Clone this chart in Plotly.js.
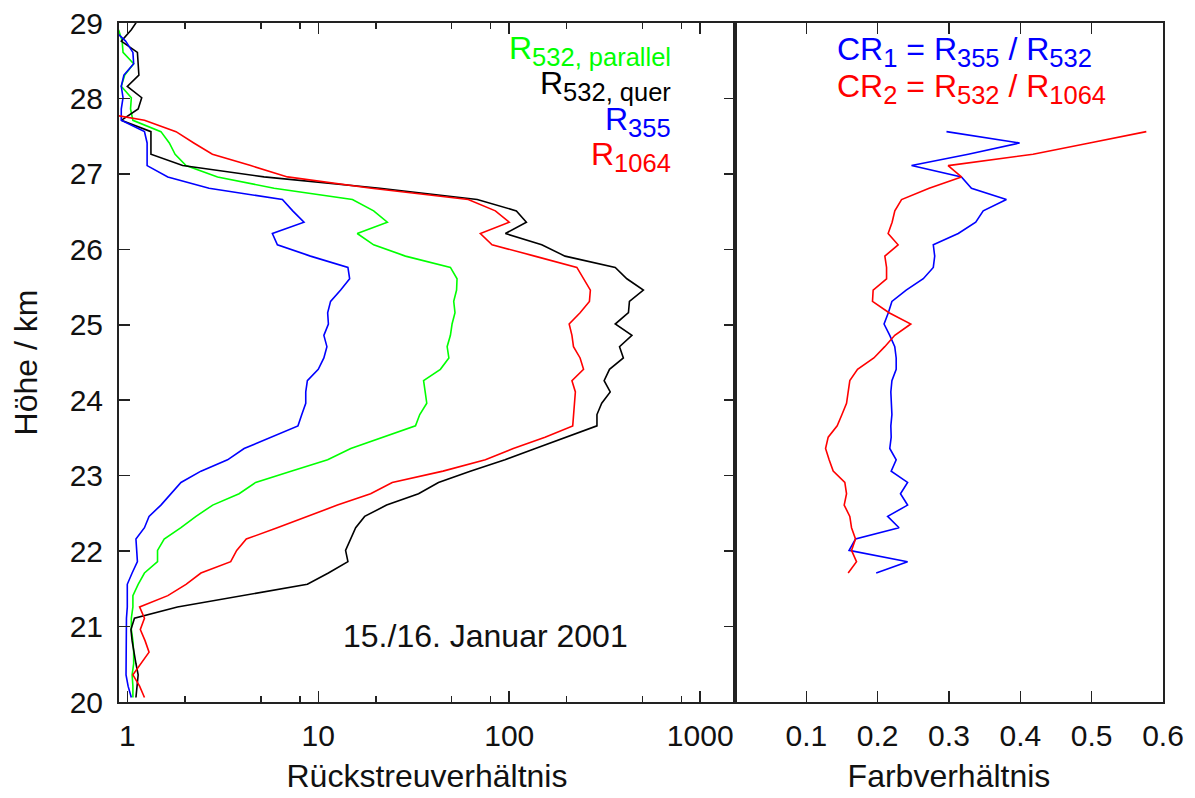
<!DOCTYPE html>
<html>
<head>
<meta charset="utf-8">
<script src="https://cdn.plot.ly/plotly-3.0.1.min.js"></script>
<style>
html,body{margin:0;padding:0;background:#fff;}
#chart{width:1195px;height:798px;}
</style>
</head>
<body>
<div id="chart"></div>
<script>
// Heights (km) of the profile levels
const heights = [20.06,20.21,20.36,20.51,20.66,20.81,20.96,21.11,21.26,21.41,21.56,21.71,21.86,22.01,22.16,22.31,22.46,22.61,22.76,22.91,23.06,23.21,23.36,23.51,23.66,23.81,23.96,24.11,24.26,24.41,24.56,24.71,24.86,25.01,25.16,25.31,25.46,25.61,25.76,25.91,26.06,26.21,26.36,26.51,26.66,26.81,26.96,27.11,27.26,27.41,27.56,27.71,27.86,28.01,28.16,28.31,28.46,28.61,28.76,28.91,29.06];

// Backscatter ratios (same order as heights)
const r532parallel = [1.07,1.07,1.06,1.08,1.08,1.07,1.05,1.05,1.07,1.07,1.14,1.23,1.44,1.44,1.56,1.91,2.29,2.8,3.85,4.7,7.2,11.2,14.8,22,32.3,34,37,36.3,35.6,43.6,48.3,47.3,49.2,50.2,52,51.2,53,53.3,49.2,28.6,19.5,16,23,19.5,15.1,5.87,2.97,2.03,1.78,1.66,1.5,1.07,1.04,1.05,0.93,0.97,1.08,0.95,0.94,0.9,null];
const r532quer = [1.11,1.12,1.14,1.11,1.08,1.06,1.045,1.09,1.83,4.0,8.77,11.3,14.3,13.9,14.8,15.7,17.5,22.8,33.5,42.6,62.5,95,137,199,288,288,305,338,314,335,396,378,439,359,421,426,504,413,359,196,148,95.5,123,109,68,21,5.2,1.95,1.33,1.33,1.33,0.93,1.14,1.19,1.0,1.15,1.14,1.13,0.93,1.05,1.15];
const r355 = [1.05,1.01,0.985,0.985,0.985,0.985,0.985,0.99,1.0,1.0,1.0,1.06,1.13,1.12,1.11,1.23,1.30,1.50,1.69,1.91,2.43,3.35,4.09,5.64,7.83,8.2,8.6,8.6,8.77,10.0,10.7,11.1,10.7,11.3,11.2,11.6,13.1,14.6,14.3,9.1,6.11,5.75,8.42,7.35,6.49,2.68,1.63,1.27,1.27,1.27,1.23,0.93,0.93,0.95,0.93,0.96,1.08,1.07,0.98,0.85,null];
const r1064 = [1.23,1.16,1.07,1.18,1.30,1.24,1.17,1.23,1.16,1.63,2.03,2.43,3.48,3.74,4.2,6.1,8.7,12.6,18.8,24.4,45,75,105,154,215,217,219,222,213,245,235,217,213,206,235,263,266,245,226,136,81.3,70.6,100,84.6,61,19,6.9,4.43,2.79,2.23,1.80,1.23,0.56,null,null,null,null,null,null,null,null];

// Colour ratios
const heightsRatio = [21.71,21.86,22.01,22.16,22.31,22.46,22.61,22.76,22.91,23.06,23.21,23.36,23.51,23.66,23.81,23.96,24.11,24.26,24.41,24.56,24.71,24.86,25.01,25.16,25.31,25.46,25.61,25.76,25.91,26.06,26.21,26.36,26.51,26.66,26.81,26.96,27.11,27.26,27.41,27.56];
const cr1 = [0.198,0.242,0.160,0.169,0.230,0.214,0.242,0.232,0.242,0.219,0.226,0.217,0.219,0.2185,0.220,0.219,0.2185,0.220,0.226,0.226,0.224,0.217,0.209,0.215,0.220,0.240,0.264,0.278,0.280,0.278,0.313,0.3375,0.348,0.3805,0.3315,0.3175,0.2475,0.327,0.399,0.2965];
const cr2 = [0.1587,0.1704,0.1634,0.169,0.1634,0.161,0.1531,0.1564,0.154,0.1377,0.132,0.127,0.1307,0.1433,0.150,0.1564,0.1587,0.161,0.1718,0.1947,0.210,0.224,0.2465,0.216,0.1928,0.1937,0.2125,0.2125,0.2101,0.2287,0.2147,0.2203,0.2241,0.2335,0.2722,0.3175,0.2988,0.4178,0.497,0.5766];

// Tick labels
const logTickVals = [1,10,100,1000];
const logTickText = ['1','10','100','1000'];
const logMinorVals = [2,5,8,20,50,80,200,500,800];
const ratioTickVals = [0.1,0.2,0.3,0.4,0.5,0.6];
const ratioTickText = ['0.1','0.2','0.3','0.4','0.5','0.6'];
const heightTickVals = [20,21,22,23,24,25,26,27,28,29];

const FONT = 'Liberation Sans, Arial, Helvetica, sans-serif';
const FS_TICK = 30;
const FS = 32;
const SUB = 25.5;
const LW = 1.6;
const AX = '#222';

function sub(t){ return '<sub><span style="font-size:' + SUB + 'px">' + t + '</span></sub>'; }

const traces = [
  {x: r532parallel, y: heights, xaxis:'x', yaxis:'y', mode:'lines', line:{color:'#00ff00', width:LW}, name:'R532 parallel'},
  {x: r532quer, y: heights, xaxis:'x', yaxis:'y', mode:'lines', line:{color:'#000000', width:LW}, name:'R532 quer'},
  {x: r355, y: heights, xaxis:'x', yaxis:'y', mode:'lines', line:{color:'#0000ff', width:LW}, name:'R355'},
  {x: r1064, y: heights, xaxis:'x', yaxis:'y', mode:'lines', line:{color:'#ff0000', width:LW}, name:'R1064'},
  {x: cr1, y: heightsRatio, xaxis:'x2', yaxis:'y2', mode:'lines', line:{color:'#0000ff', width:LW}, name:'CR1'},
  {x: cr2, y: heightsRatio, xaxis:'x2', yaxis:'y2', mode:'lines', line:{color:'#ff0000', width:LW}, name:'CR2'}
];

const split = 0.59;
const legX = (673-119)/1044;

const layout = {
  width: 1195, height: 798,
  margin: {l:119, r:32, t:23, b:96},
  paper_bgcolor:'#fff', plot_bgcolor:'#fff',
  showlegend:false,
  font:{family:FONT, size:FS_TICK, color:'#111'},
  xaxis: {
    type:'log', domain:[0, split], range:[-0.0434, 3.182], anchor:'y',
    tickmode:'array', tickvals:logTickVals, ticktext:logTickText,
    ticks:'inside', ticklen:11, tickwidth:1.5, tickcolor:AX,
    minor:{tickmode:'array', tickvals:logMinorVals, ticks:'inside', ticklen:6, tickwidth:1.5, tickcolor:AX, showgrid:false},
    showline:true, linecolor:AX, linewidth:2, mirror:'ticks',
    showgrid:false, zeroline:false, ticklabelstandoff:6,
    title:{text:'Rückstreuverhältnis', font:{size:FS}, standoff:14}
  },
  xaxis2: {
    domain:[split, 1], range:[0, 0.6], anchor:'y2',
    tickmode:'array', tickvals:ratioTickVals, ticktext:ratioTickText,
    ticks:'inside', ticklen:11, tickwidth:1.5, tickcolor:AX,
    showline:true, linecolor:AX, linewidth:2, mirror:'ticks',
    showgrid:false, zeroline:false, ticklabelstandoff:6,
    title:{text:'Farbverhältnis', font:{size:FS}, standoff:14}
  },
  yaxis: {
    domain:[0,1], range:[20, 29], anchor:'x',
    tickmode:'array', tickvals:heightTickVals,
    ticks:'inside', ticklen:11, tickwidth:1.5, tickcolor:AX,
    showline:true, linecolor:AX, linewidth:2, mirror:'ticks',
    showgrid:false, zeroline:false, ticklabelstandoff:8,
    title:{text:'Höhe / km', font:{size:FS}, standoff:22}
  },
  yaxis2: {
    domain:[0,1], range:[20, 29], anchor:'x2', matches:'y',
    showticklabels:false, ticks:'',
    showline:true, linecolor:AX, linewidth:2, mirror:true,
    showgrid:false, zeroline:false
  },
  annotations: [
    {xref:'paper', yref:'y', x:legX, y:28.64, xanchor:'right', yanchor:'middle', showarrow:false,
     text:'R' + sub('532, parallel'), font:{family:FONT, size:FS, color:'#00ff00'}},
    {xref:'paper', yref:'y', x:legX, y:28.17, xanchor:'right', yanchor:'middle', showarrow:false,
     text:'R' + sub('532, quer'), font:{family:FONT, size:FS, color:'#000000'}},
    {xref:'paper', yref:'y', x:legX, y:27.69, xanchor:'right', yanchor:'middle', showarrow:false,
     text:'R' + sub('355'), font:{family:FONT, size:FS, color:'#0000ff'}},
    {xref:'paper', yref:'y', x:legX, y:27.23, xanchor:'right', yanchor:'middle', showarrow:false,
     text:'R' + sub('1064'), font:{family:FONT, size:FS, color:'#ff0000'}},
    {xref:'x2', yref:'y2', x:0.140, y:28.62, xanchor:'left', yanchor:'middle', showarrow:false,
     text:'CR' + sub('1') + ' = R' + sub('355') + ' / R' + sub('532'), font:{family:FONT, size:FS, color:'#0000ff'}},
    {xref:'x2', yref:'y2', x:0.140, y:28.13, xanchor:'left', yanchor:'middle', showarrow:false,
     text:'CR' + sub('2') + ' = R' + sub('532') + ' / R' + sub('1064'), font:{family:FONT, size:FS, color:'#ff0000'}},
    {xref:'x', yref:'y', x:Math.log10(75), y:20.875, xanchor:'center', yanchor:'middle', showarrow:false,
     text:'15./16. Januar 2001', font:{family:FONT, size:FS, color:'#111'}}
  ]
};

Plotly.newPlot('chart', traces, layout, {displayModeBar:false, staticPlot:true});
</script>
</body>
</html>
